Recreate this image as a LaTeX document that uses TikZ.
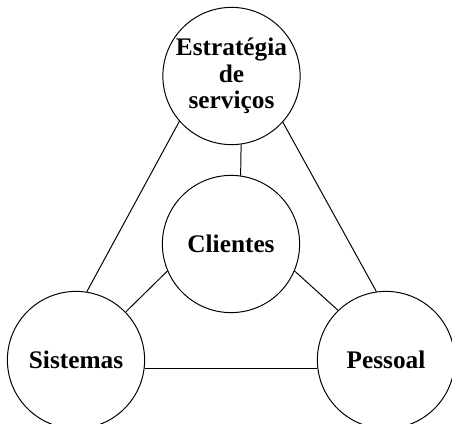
\documentclass[tikz,border=0pt]{standalone}
\usepackage{fontspec}
\setmainfont{Liberation Serif}

\begin{document}
\begin{tikzpicture}[x=0.025cm, y=-0.025cm,
    circ/.style={draw, circle, line width=0.7pt, minimum size=3.43cm, inner sep=0pt,
                 align=center, font=\fontsize{18}{19}\selectfont\bfseries},
    link/.style={line width=0.7pt}]
    \useasboundingbox (0,0) rectangle (452,423);
    \node [circ] (estr) at (231.5,76) {Estratégia\\de\\serviços};
    \node [circ] (cli) at (231,244) {Clientes};
    \node [circ] (sis) at (76,360) {Sistemas};
    \node [circ] (pes) at (386,360) {Pessoal};
    \draw [link] (estr.221) -- (sis.81);
    \draw [link] (estr.318) -- (pes.98);
    \draw [link] (estr.-82) -- (cli.82);
    \draw [link] (cli.203) -- (sis.44);
    \draw [link] (cli.337) -- (pes.134);
    \draw [link] (sis.-7) -- (pes.187);
\end{tikzpicture}
\end{document}
